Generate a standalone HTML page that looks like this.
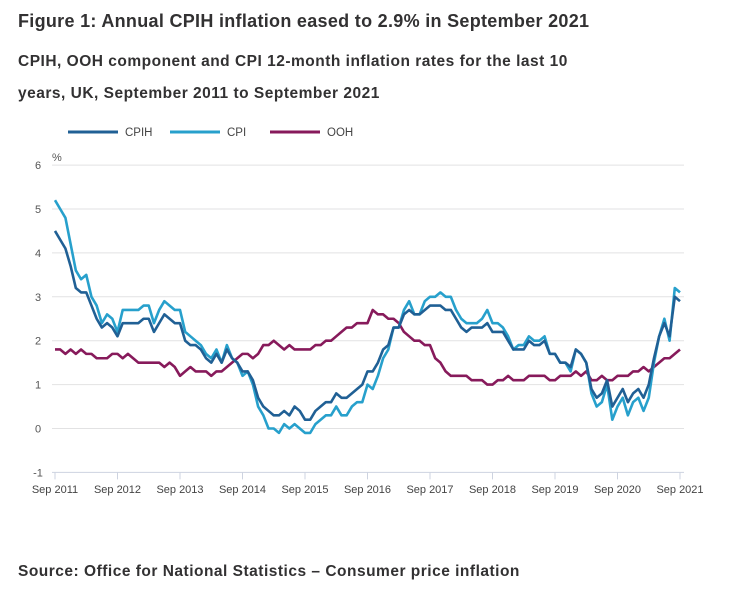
<!DOCTYPE html>
<html><head><meta charset="utf-8"><style>
body{margin:0;background:#fff;width:737px;height:592px;overflow:hidden;font-family:"Liberation Sans",sans-serif;color:#222}
.t{position:absolute;left:18px;font-weight:bold;color:#323132}
</style></head><body>
<div class="t" style="top:11px;font-size:18px;letter-spacing:0.3px">Figure 1: Annual CPIH inflation eased to 2.9% in September 2021</div>
<div class="t" style="top:46px;font-size:15.5px;line-height:32px;width:580px;letter-spacing:0.5px">CPIH, OOH component and CPI 12-month inflation rates for the last 10 years, UK, September 2011 to September 2021</div>
<div class="t" style="top:563px;font-size:15.5px;letter-spacing:0.5px">Source: Office for National Statistics – Consumer price inflation</div>
<svg id="c" width="737" height="592" style="position:absolute;left:0;top:0"></svg>
<script>
const cpi=[5.2,5.0,4.8,4.2,
3.6,3.4,3.5,3.0,2.8,2.4,2.6,2.5,2.2,2.7,2.7,2.7,
2.7,2.8,2.8,2.4,2.7,2.9,2.8,2.7,2.7,2.2,2.1,2.0,
1.9,1.7,1.6,1.8,1.5,1.9,1.6,1.5,1.2,1.3,1.0,0.5,
0.3,0.0,0.0,-0.1,0.1,0.0,0.1,0.0,-0.1,-0.1,0.1,0.2,
0.3,0.3,0.5,0.3,0.3,0.5,0.6,0.6,1.0,0.9,1.2,1.6,
1.8,2.3,2.3,2.7,2.9,2.6,2.6,2.9,3.0,3.0,3.1,3.0,
3.0,2.7,2.5,2.4,2.4,2.4,2.5,2.7,2.4,2.4,2.3,2.1,
1.8,1.9,1.9,2.1,2.0,2.0,2.1,1.7,1.7,1.5,1.5,1.3,
1.8,1.7,1.5,0.8,0.5,0.6,1.0,0.2,0.5,0.7,0.3,0.6,
0.7,0.4,0.7,1.5,2.1,2.5,2.0,3.2,3.1];
const cpih=[4.5,4.3,4.1,3.7,
3.2,3.1,3.1,2.8,2.5,2.3,2.4,2.3,2.1,2.4,2.4,2.4,
2.4,2.5,2.5,2.2,2.4,2.6,2.5,2.4,2.4,2.0,1.9,1.9,
1.8,1.6,1.5,1.7,1.5,1.8,1.6,1.5,1.3,1.3,1.1,0.7,
0.5,0.4,0.3,0.3,0.4,0.3,0.5,0.4,0.2,0.2,0.4,0.5,
0.6,0.6,0.8,0.7,0.7,0.8,0.9,1.0,1.3,1.3,1.5,1.8,
1.9,2.3,2.3,2.6,2.7,2.6,2.6,2.7,2.8,2.8,2.8,2.7,
2.7,2.5,2.3,2.2,2.3,2.3,2.3,2.4,2.2,2.2,2.2,2.0,
1.8,1.8,1.8,2.0,1.9,1.9,2.0,1.7,1.7,1.5,1.5,1.4,
1.8,1.7,1.5,0.9,0.7,0.8,1.1,0.5,0.7,0.9,0.6,0.8,
0.9,0.7,1.0,1.6,2.1,2.4,2.1,3.0,2.9];
const ooh=[1.8,1.8,1.7,1.8,
1.7,1.8,1.7,1.7,1.6,1.6,1.6,1.7,1.7,1.6,1.7,1.6,
1.5,1.5,1.5,1.5,1.5,1.4,1.5,1.4,1.2,1.3,1.4,1.3,
1.3,1.3,1.2,1.3,1.3,1.4,1.5,1.6,1.7,1.7,1.6,1.7,
1.9,1.9,2.0,1.9,1.8,1.9,1.8,1.8,1.8,1.8,1.9,1.9,
2.0,2.0,2.1,2.2,2.3,2.3,2.4,2.4,2.4,2.7,2.6,2.6,
2.5,2.5,2.4,2.2,2.1,2.0,2.0,1.9,1.9,1.6,1.5,1.3,
1.2,1.2,1.2,1.2,1.1,1.1,1.1,1.0,1.0,1.1,1.1,1.2,
1.1,1.1,1.1,1.2,1.2,1.2,1.2,1.1,1.1,1.2,1.2,1.2,
1.3,1.2,1.3,1.1,1.1,1.2,1.1,1.1,1.2,1.2,1.2,1.3,
1.3,1.4,1.3,1.4,1.5,1.6,1.6,1.7,1.8];
const yTicks=[6,5,4,3,2,1,0,-1];
const xLabels=["Sep 2011","Sep 2012","Sep 2013","Sep 2014","Sep 2015","Sep 2016","Sep 2017","Sep 2018","Sep 2019","Sep 2020","Sep 2021"];
const X0=55,X1=680,Y0=428.5,PU=43.9;
const xs=i=>X0+(X1-X0)*i/120;
const ys=v=>Y0-v*PU;
const svg=document.getElementById('c');const NS='http://www.w3.org/2000/svg';
function mk(t,a,p){const e=document.createElementNS(NS,t);for(const k in a)e.setAttribute(k,a[k]);(p||svg).appendChild(e);return e;}
yTicks.forEach(v=>{
 const g=mk('line',{x1:X0-3,x2:684,y1:ys(v),y2:ys(v),stroke:v==-1?'#cdd3e0':'#e2e2e3','stroke-width':1});
 
 
 const t=mk('text',{x:38,y:ys(v)+4,'font-size':11,fill:'#555','text-anchor':'middle'});t.textContent=v;
 
 
});
const pc=mk('text',{x:52,y:161,'font-size':11,fill:'#555'});pc.textContent='%';


xLabels.forEach((l,i)=>{
 const x=xs(i*12);
 const tk=mk('line',{x1:x,x2:x,y1:ys(-1),y2:ys(-1)+7,stroke:'#cdd3e0'});
 
 
 const t=mk('text',{x:x,y:493,'font-size':11,fill:'#444','text-anchor':'middle'});t.textContent=l;
 
 
});
function line(d,c,n){const p=mk('polyline',{points:d.map((v,i)=>xs(i)+','+ys(v)).join(' '),fill:'none',stroke:c,'stroke-width':2.6,'stroke-linejoin':'round'});
 
 }
line(ooh,'#871a5b','ooh-line');
line(cpi,'#27a0cc','cpi-line');
line(cpih,'#206095','cpih-line');
[['CPIH','#206095',68],['CPI','#27a0cc',170],['OOH','#871a5b',270]].forEach(([n,c,x])=>{
 const l=mk('line',{x1:x,x2:x+50,y1:132,y2:132,stroke:c,'stroke-width':3});
 
 
 const t=mk('text',{x:x+57,y:136,'font-size':11.5,fill:'#444'});t.textContent=n;
 
 
});
</script>
</body></html>
